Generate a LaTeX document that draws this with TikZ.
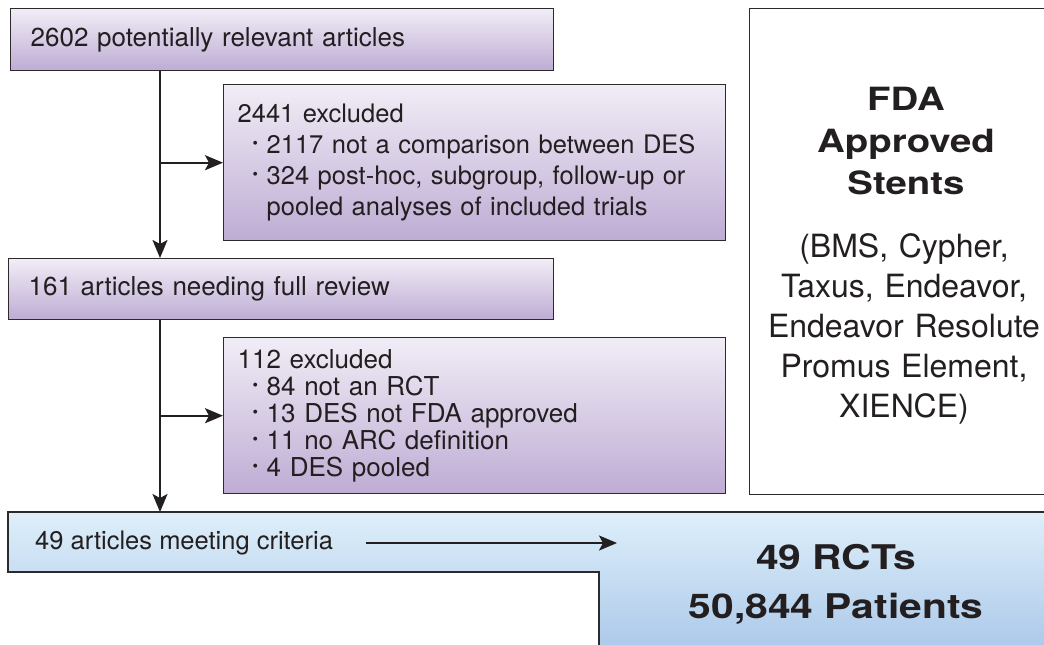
\documentclass[tikz,border=0pt]{standalone}
\usepackage{fontspec}
\setmainfont{TeX Gyre Heros}
\newfontfamily\heavyfont[FakeStretch=1.2]{TeX Gyre Heros}
\usetikzlibrary{arrows.meta,positioning}
\definecolor{liltop}{RGB}{241,237,246}
\definecolor{lilbot}{RGB}{190,172,212}
\definecolor{skytop}{RGB}{222,239,250}
\definecolor{skybot}{RGB}{168,198,232}
\definecolor{inkline}{RGB}{45,42,44}
\definecolor{inktext}{RGB}{35,31,32}

% bullet line and its continuation inside the exclusion boxes
\newcommand{\exbullet}{\par\noindent\hspace*{15pt}\makebox[14pt][l]{\raisebox{0.2em}{\scalebox{0.6}{\textbullet}}}}
\newcommand{\exwrap}{\par\noindent\hspace*{29pt}}

\tikzset{
  stage/.style={draw=inkline, line width=1.4pt, top color=liltop, bottom color=lilbot,
    anchor=north west, align=left, inner ysep=0pt, font=\fontsize{26}{31}\selectfont},
  flow/.style={draw=inktext, line width=2pt, -{Stealth[length=18pt,width=15pt,inset=4pt]}},
  heading/.style={align=center, inner sep=0pt, anchor=base, font=\heavyfont\bfseries},
}

\begin{document}
\begin{tikzpicture}[x=1pt, y=-1pt, every node/.append style={text=inktext}]
\useasboundingbox (0,0) rectangle (1044,645);
\clip (0,0) rectangle (1044,645);

% final pool, L shaped
\path[draw=inkline, line width=1.4pt, top color=skytop, bottom color=skybot]
  (8,572) -- (8,512) -- (1060,512) -- (1060,660) -- (599,660) -- (599,572) -- cycle;
\coordinate (pooltop) at (0,512);

\node[stage, inner xsep=20pt, text width=503pt, minimum height=62pt] (top) at (10,8) {2602 potentially relevant articles};
\node[stage, inner xsep=14pt, text width=474pt, minimum height=156pt, font=\fontsize{25.5}{31}\selectfont] (ex1) at (223,84) {2441 excluded\exbullet 2117 not a comparison between DES\exbullet 324 post-hoc, subgroup, follow-up or\exwrap pooled analyses of included trials};
\node[stage, inner xsep=20pt, text width=505pt, minimum height=61pt] (rev) at (8,258) {161 articles needing full review};
\node[stage, inner xsep=14pt, text width=474pt, minimum height=156pt, font=\fontsize{26}{27}\selectfont] (ex2) at (223,337) {112 excluded\exbullet 84 not an RCT\exbullet 13 DES not FDA approved\exbullet 11 no ARC definition\exbullet 4 DES pooled};

% stents box
\node[draw=inkline, line width=1.4pt, anchor=north west, minimum width=314pt, minimum height=486pt, inner sep=0pt] (fdabox) at (749,8) {};
\node[heading, text width=300pt, font=\heavyfont\bfseries\fontsize{32}{42}\selectfont] (fdatitle) at (906,110) {FDA\\Approved\\Stents};
\node[align=center, inner sep=0pt, anchor=base, text width=300pt, font=\fontsize{32}{40}\selectfont] (fdalist) at ([xshift=-2pt, yshift=-147pt]fdatitle.base) {(BMS, Cypher,\\Taxus, Endeavor,\\Endeavor Resolute\\Promus Element,\\XIENCE)};

\node[anchor=west, inner sep=0pt, font=\fontsize{25.5}{30}\selectfont] (crit) at (35,543) {49 articles meeting criteria};
\coordinate (rctin) at (617,543);
\node[heading, text width=340pt, font=\heavyfont\bfseries\fontsize{34}{49}\selectfont] (rct) at (836,569) {49 RCTs\\50,844 Patients};

\coordinate (spine) at (160,0);
\draw[flow] (top.south -| spine) -- (rev.north -| spine);
\draw[flow] (ex1.west -| spine) -- (ex1.west);
\draw[flow] (rev.south -| spine) -- (pooltop -| spine);
\draw[flow] (ex2.west -| spine) -- (ex2.west);
\draw[flow] ([xshift=33pt]crit.east) -- (crit.east -| rctin);
\end{tikzpicture}
\end{document}
